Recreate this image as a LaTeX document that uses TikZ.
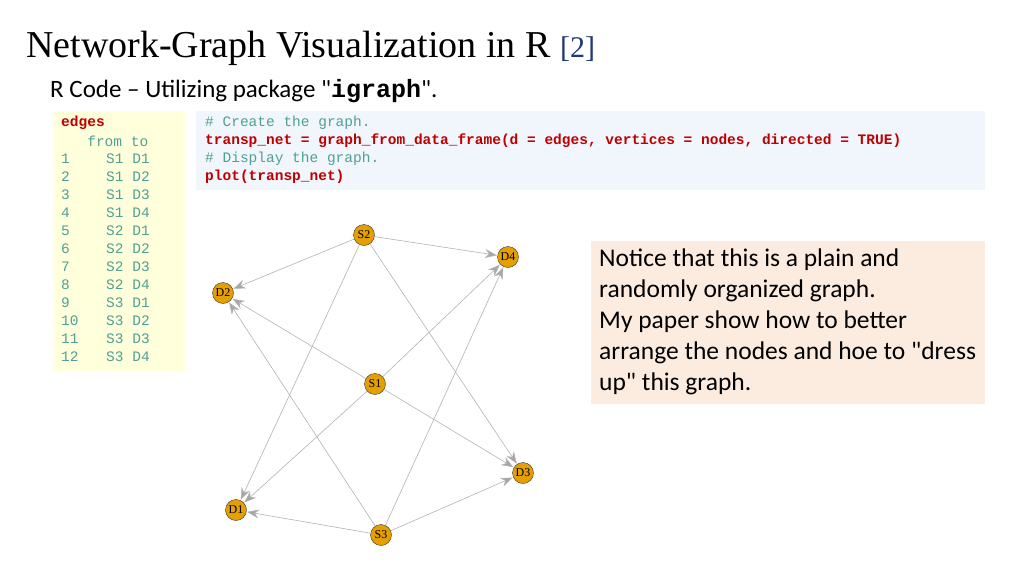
\documentclass[tikz,border=0pt]{standalone}
\usepackage{fontspec}
\setmainfont{Liberation Serif}
\newfontfamily\carlitofont{Carlito}
\setmonofont{Liberation Mono}
\usetikzlibrary{arrows.meta}
\definecolor{cred}{RGB}{192,0,0}
\definecolor{cgreen}{RGB}{80,160,150}
\definecolor{cyel}{RGB}{255,255,220}
\definecolor{cblue}{RGB}{240,246,252}
\definecolor{cpeach}{RGB}{252,236,224}
\definecolor{corange}{RGB}{230,159,0}
\definecolor{ctitle}{RGB}{31,56,120}
\begin{document}
\begin{tikzpicture}[x=1pt,y=-1pt,
  vtx/.style={circle,draw=black!80,fill=corange,minimum size=21pt,inner sep=0pt,font=\fontsize{12}{12}\selectfont},
  edge/.style={draw=black!30,line width=0.6pt,-{Stealth[length=12pt,width=9pt,fill=black!35]},shorten >=0.5pt},
  code/.style={anchor=west,inner sep=0pt,font=\ttfamily\fontsize{14.5}{14.5}\selectfont}]
\useasboundingbox (0,0) rectangle (1024,576);
\node[anchor=west,inner sep=0pt,font=\fontsize{38}{38}\selectfont] (title) at (26,48) {Network-Graph Visualization in R \textcolor{ctitle}{\fontsize{30}{30}\selectfont[2]}};
\node[anchor=west,inner sep=0pt,font=\carlitofont\fontsize{25}{25}\selectfont] (sub) at (50,91) {R Code \textendash{} Utilizing  package "\textbf{\ttfamily igraph}".};
\fill[cyel] (53,111) rectangle (185,371);
\fill[cblue] (196,111) rectangle (985,190);
\fill[cpeach] (591,241) rectangle (985,404);
\node[code,text=cred,font=\ttfamily\bfseries\fontsize{14.5}{14.5}\selectfont] (e0) at (61,123) {edges};
\node[code,text=cgreen] (e1) at (61,141) {\ \ \ from to};
\foreach \i/\s/\d in {1/S1/D1,2/S1/D2,3/S1/D3,4/S1/D4,5/S2/D1,6/S2/D2,7/S2/D3,8/S2/D4,9/S3/D1,10/S3/D2,11/S3/D3,12/S3/D4}{
  \node[code,text=cgreen] (r\i) at (61,141+18*\i) {\i};
  \node[code,text=cgreen] (q\i) at (106,141+18*\i) {\s\ \d};
}
\node[code,text=cgreen] (c1) at (205,123) {\# Create the graph.};
\node[code,text=cred,font=\ttfamily\bfseries\fontsize{14.5}{14.5}\selectfont] (c2) at (205,141) {transp\_net = graph\_from\_data\_frame(d = edges, vertices = nodes, directed = TRUE)};
\node[code,text=cgreen] (c3) at (205,159) {\# Display the graph.};
\node[code,text=cred,font=\ttfamily\bfseries\fontsize{14.5}{14.5}\selectfont] (c4) at (205,177) {plot(transp\_net)};
\node[anchor=north west,inner sep=0pt,align=left,font=\carlitofont\fontsize{25.5}{31}\selectfont] (note) at (599,249) {Notice that this is a plain and\\randomly organized graph.\\My paper show how to better\\arrange the nodes and hoe to "dress\\up" this graph.};
\node[vtx] (S2) at (364,235) {S2};
\node[vtx] (D4) at (508,257) {D4};
\node[vtx] (D2) at (223,293) {D2};
\node[vtx] (S1) at (375,384) {S1};
\node[vtx] (D3) at (523,473) {D3};
\node[vtx] (D1) at (236,510) {D1};
\node[vtx] (S3) at (381,535) {S3};
\foreach \s in {S1,S2,S3}{\foreach \d in {D1,D2,D3,D4}{\draw[edge] (\s) -- (\d);}}
\end{tikzpicture}
\end{document}
